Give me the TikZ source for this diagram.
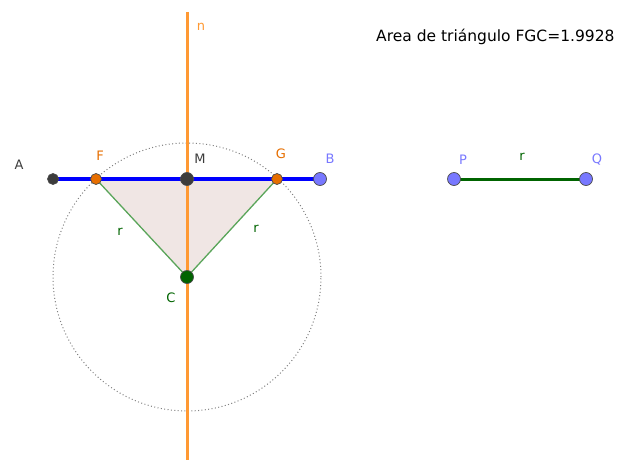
\documentclass[tikz,border=0pt]{standalone}
\usepackage{fontspec}
\setsansfont{DejaVu Sans}
\usepackage{tikz}
\definecolor{lineblue}{RGB}{0,0,255}
\definecolor{linen}{RGB}{255,153,51}
\definecolor{ptorange}{RGB}{230,110,0}
\definecolor{ptblue}{RGB}{120,120,255}
\definecolor{ptgray}{RGB}{60,60,60}
\definecolor{darkgreen}{RGB}{0,100,0}
\definecolor{sidegreen}{RGB}{90,165,90}
\definecolor{trifill}{RGB}{240,230,228}

\begin{document}
\begin{tikzpicture}[x=1pt, y=-1pt,
  pt/.style={circle, draw=black!70, line width=0.7pt, inner sep=0pt, minimum size=11pt},
  lbl/.style={font=\sffamily\fontsize{13}{15}\selectfont, inner sep=0pt}]
\useasboundingbox (0,0) rectangle (620,460);
\coordinate (A) at (53,179);
\coordinate (F) at (96,179);
\coordinate (M) at (187,179);
\coordinate (G) at (277,179);
\coordinate (B) at (320,179);
\coordinate (C) at (187,277);
\coordinate (P) at (454,179);
\coordinate (Q) at (586,179);
\coordinate (ntop) at (187,12);
\coordinate (nbot) at (187,460);
% triangle and circle
\fill[trifill] (F) -- (G) -- (C) -- cycle;
\draw[gray, line width=1pt, dash pattern=on 1pt off 2.4pt] (C) circle (134pt);
\draw[sidegreen, line width=1.3pt] (F) -- (C) -- (G);
\draw[linen, line width=3pt] (ntop) -- (nbot);
\draw[lineblue, line width=3.6pt] (A) -- (B);
\draw[darkgreen, line width=3pt] (P) -- (Q);
% points
\node[pt, fill=ptgray] (ptA) at (A) {};
\node[pt, fill=ptorange] (ptF) at (F) {};
\node[pt, fill=ptgray, minimum size=13pt] (ptM) at (M) {};
\node[pt, fill=ptorange] (ptG) at (G) {};
\node[pt, fill=ptblue, minimum size=13pt] (ptB) at (B) {};
\node[pt, fill=darkgreen, minimum size=13pt] (ptC) at (C) {};
\node[pt, fill=ptblue, minimum size=13pt] (ptP) at (P) {};
\node[pt, fill=ptblue, minimum size=13pt] (ptQ) at (Q) {};
% labels
\node[lbl, text=ptgray] (labA) at (19,165) {A};
\node[lbl, text=ptorange] (labF) at (100,156) {F};
\node[lbl, text=ptgray] (labM) at (200,159) {M};
\node[lbl, text=ptorange] (labG) at (281,154) {G};
\node[lbl, text=ptblue] (labB) at (330,159) {B};
\node[lbl, text=darkgreen] (labC) at (171,298) {C};
\node[lbl, text=ptblue] (labP) at (463,160) {P};
\node[lbl, text=ptblue] (labQ) at (597,160) {Q};
\node[lbl, text=darkgreen] (labPQ) at (522,157) {r};
\node[lbl, text=darkgreen] (labFC) at (120,232) {r};
\node[lbl, text=darkgreen] (labGC) at (256,229) {r};
\node[lbl, text=linen] (labn) at (201,27) {n};
\node[lbl, anchor=west, font=\sffamily\fontsize{15.5}{18}\selectfont] (area) at (376,37) {Area de triángulo FGC=1.9928};
\end{tikzpicture}
\end{document}
